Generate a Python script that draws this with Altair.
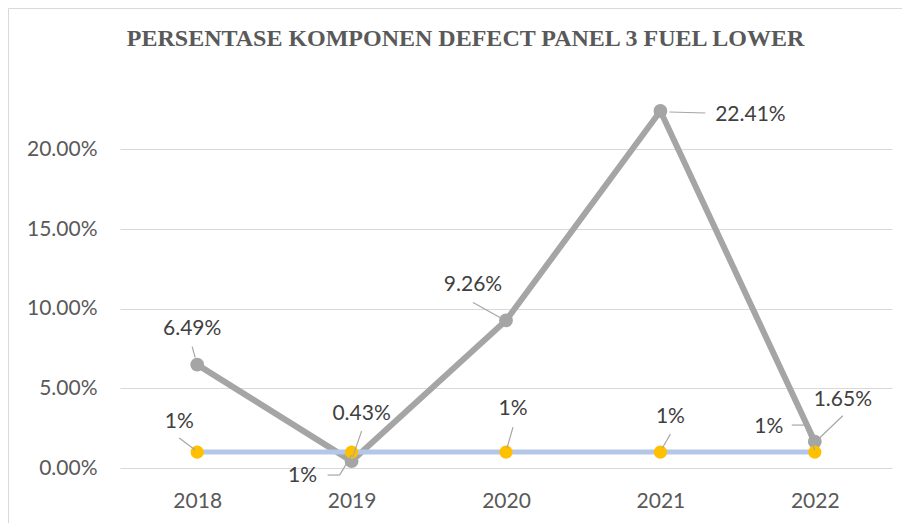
import altair as alt
import pandas as pd

years = ["2018", "2019", "2020", "2021", "2022"]
defect = [0.0649, 0.0043, 0.0926, 0.2241, 0.0165]
target = [0.01, 0.01, 0.01, 0.01, 0.01]
y_ticks = [0, 0.05, 0.10, 0.15, 0.20]
title_text = "PERSENTASE KOMPONEN DEFECT PANEL 3 FUEL LOWER"

df = pd.DataFrame({"year": years, "defect": defect, "target": target})

# label offsets (dx, dy) relative to each point, in px
defect_label_off = [(-5, -36), (10, -47), (-33, -35), (90, 4), (28, -42)]
target_label_off = [(-18, -30), (-49, 24), (7, -43), (10, -35), (-46, -25)]
# leader segments (start dx, start dy, end dx, end dy)
defect_leaders = [
    [(-2, -7, -5, -18)],
    [(1, -4, 10, -30)],
    [(-6, -3, -33, -18)],
    [(9, 1, 45, 2)],
    [(5, -4, 28, -26)],
]
target_leaders = [
    [(-2, -2, -18, -14)],
    [(0, 3, -12, 23), (-12, 23, -24, 23)],
    [(1, -4, 7, -25)],
    [(2, -4, 10, -18)],
    [(0, -2, -10, -27), (-10, -27, -23, -27)],
]

LABEL_FONT = "Lato"

def xenc():
    return alt.X(
        "year:O",
        scale=alt.Scale(type="point", padding=0.5),
        axis=alt.Axis(
            title=None, labelAngle=0, domain=False, ticks=False, grid=False,
            labelPadding=22, labelFont=LABEL_FONT, labelFontSize=21,
            labelColor="#595959",
        ),
    )

def yenc(field):
    return alt.Y(
        f"{field}:Q",
        scale=alt.Scale(domain=[0, 0.231], nice=False, zero=True),
        axis=alt.Axis(
            title=None, format=".2%", values=y_ticks, domain=False, ticks=False,
            grid=True, gridColor="#D9D9D9", gridWidth=1,
            labelPadding=23, labelFont=LABEL_FONT, labelFontSize=21,
            labelColor="#595959",
        ),
    )

base = alt.Chart(df)

layers = [
    base.mark_line(color="#A5A5A5", strokeWidth=6).encode(x=xenc(), y=yenc("defect")),
    base.mark_circle(color="#A5A5A5", size=190, opacity=1).encode(x=xenc(), y=yenc("defect")),
    base.mark_line(color="#B4C7E7", strokeWidth=5).encode(x=xenc(), y=yenc("target")),
    base.mark_circle(color="#FFC000", size=175, opacity=1).encode(x=xenc(), y=yenc("target")),
]

for field, leaders in (("defect", defect_leaders), ("target", target_leaders)):
    for yr, segs in zip(years, leaders):
        for (sx, sy, ex, ey) in segs:
            layers.append(
                base.transform_filter(alt.datum.year == yr)
                .mark_rule(color="#A6A6A6", strokeWidth=1.2,
                           xOffset=sx, yOffset=sy, x2Offset=ex, y2Offset=ey)
                .encode(x=xenc(), x2="year", y=yenc(field), y2=field)
            )

for field, offs, fmt in (("defect", defect_label_off, ".2%"),
                         ("target", target_label_off, ".0%")):
    for yr, (dx, dy) in zip(years, offs):
        layers.append(
            base.transform_filter(alt.datum.year == yr)
            .mark_text(dx=dx, dy=dy, font=LABEL_FONT, fontSize=21,
                       color="#404040", align="center", baseline="middle")
            .encode(x=xenc(), y=yenc(field),
                    text=alt.Text(f"{field}:Q", format=fmt))
        )

frame_df = pd.DataFrame({"a": [0]})
layers.append(
    alt.Chart(frame_df).mark_rule(color="#D9D9D9", strokeWidth=1)
    .encode(x=alt.value(-111.5), y=alt.value(-91.5), y2=alt.value(440))
)
layers.append(
    alt.Chart(frame_df).mark_rule(color="#D9D9D9", strokeWidth=1)
    .encode(x=alt.value(-111.5), x2=alt.value(800), y=alt.value(-91.5))
)

# chart title drawn as text above the plot area
title_df = pd.DataFrame({"t": [title_text]})
layers.append(
    alt.Chart(title_df).mark_text(
        font="Liberation Serif", fontSize=24, fontWeight="bold", color="#595959",
        align="center", baseline="alphabetic",
    ).encode(text="t:N", x=alt.value(345.5), y=alt.value(-54))
)

chart = alt.layer(*layers).properties(
    width=772,
    height=368,
    autosize=alt.AutoSizeParams(type="none"),
    padding={"left": 112, "top": 92, "right": 10, "bottom": 55},
    background="white",
).configure_view(stroke=None, strokeWidth=0, strokeOpacity=0)

chart.save("out.html", embed_options={"renderer": "svg", "actions": False})
